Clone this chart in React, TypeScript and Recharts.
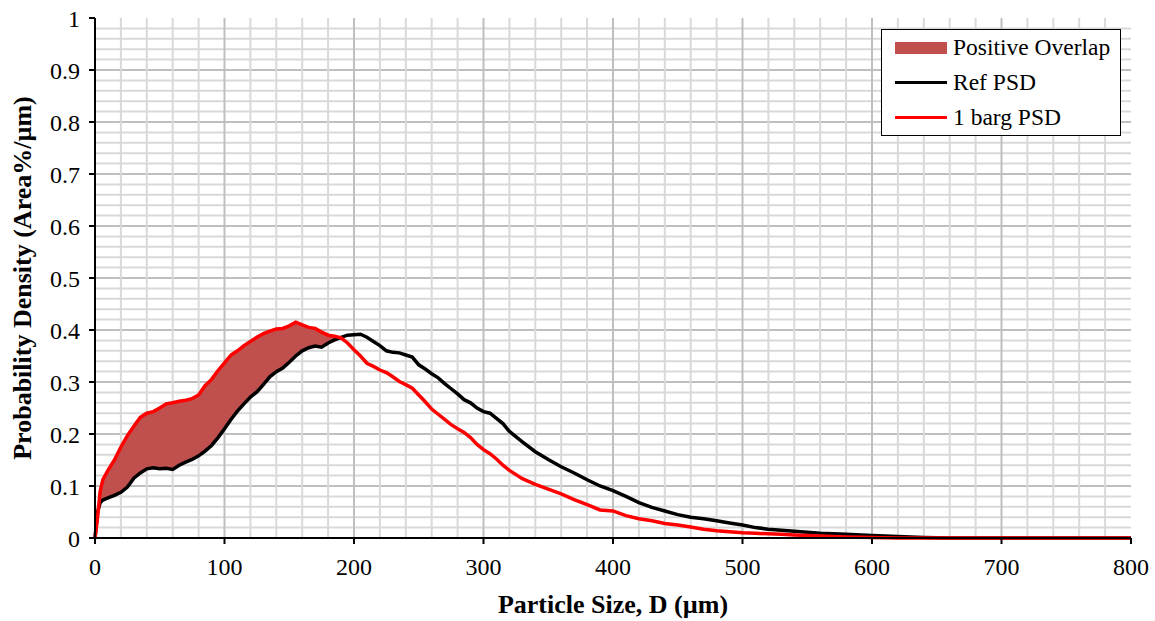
import { ComposedChart, Line, Area, XAxis, YAxis, CartesianGrid } from 'recharts'

// particle size grid (µm) shared by both PSD curves
const sizes = [
  0, 2, 4, 6, 10, 15, 20, 25, 30, 35, 40, 45, 50, 55, 60, 65, 70, 75, 80, 85, 90, 95,
  100, 105, 110, 115, 120, 125, 130, 135, 140, 145, 150, 155, 160, 165, 170, 175, 180, 185, 190, 195,
  200, 205, 210, 215, 220, 225, 230, 235, 240, 245, 250, 255, 260, 265, 270, 275, 280, 285, 290, 295,
  300, 305, 310, 315, 320, 330, 340, 350, 360, 370, 380, 390, 400, 410, 420, 430, 440, 450, 460, 470,
  480, 490, 500, 510, 520, 530, 540, 550, 560, 580, 600, 620, 640, 660, 700, 750, 800,
]

const refPsd = [
  0, 0.05, 0.068, 0.073, 0.077, 0.082, 0.088, 0.098, 0.115, 0.125, 0.133, 0.135, 0.133, 0.134, 0.132, 0.14, 0.146, 0.151, 0.158, 0.167, 0.178, 0.193,
  0.21, 0.228, 0.244, 0.258, 0.271, 0.281, 0.295, 0.31, 0.32, 0.327, 0.338, 0.35, 0.36, 0.366, 0.369, 0.367, 0.375, 0.381, 0.386, 0.39,
  0.391, 0.392, 0.386, 0.378, 0.37, 0.36, 0.357, 0.356, 0.352, 0.348, 0.333, 0.325, 0.316, 0.308, 0.297, 0.287, 0.277, 0.266, 0.26, 0.25,
  0.243, 0.24, 0.23, 0.22, 0.205, 0.185, 0.166, 0.151, 0.137, 0.125, 0.112, 0.1, 0.091, 0.08, 0.068, 0.059, 0.052, 0.045, 0.04, 0.037,
  0.033, 0.029, 0.025, 0.02, 0.017, 0.015, 0.013, 0.011, 0.009, 0.007, 0.005, 0.003, 0.001, 0, 0, 0, 0,
]

const bargPsd = [
  0, 0.04, 0.09, 0.112, 0.13, 0.15, 0.175, 0.197, 0.215, 0.232, 0.24, 0.243, 0.25, 0.258, 0.26, 0.263, 0.265, 0.268, 0.275, 0.293, 0.305, 0.322,
  0.337, 0.352, 0.36, 0.37, 0.378, 0.386, 0.393, 0.398, 0.402, 0.403, 0.408, 0.415, 0.41, 0.405, 0.403, 0.396, 0.39, 0.388, 0.385, 0.375,
  0.362, 0.35, 0.336, 0.33, 0.323, 0.318, 0.31, 0.301, 0.295, 0.288, 0.275, 0.262, 0.248, 0.238, 0.228, 0.218, 0.21, 0.203, 0.193, 0.18,
  0.17, 0.162, 0.152, 0.14, 0.13, 0.114, 0.103, 0.094, 0.085, 0.074, 0.064, 0.054, 0.052, 0.043, 0.037, 0.033, 0.028, 0.025, 0.021, 0.017,
  0.014, 0.012, 0.01, 0.009, 0.008, 0.007, 0.006, 0.005, 0.004, 0.002, 0.001, 0, 0, 0, 0, 0, 0,
]

const xTicks = [0, 100, 200, 300, 400, 500, 600, 700, 800]
const yTicks = [0, 0.1, 0.2, 0.3, 0.4, 0.5, 0.6, 0.7, 0.8, 0.9, 1]

// gridlines: every 20 µm and every 0.02, darker on the labelled ticks
const xGrid = Array.from({ length: 39 }, (_, i) => (i + 1) * 20)
const yGrid = Array.from({ length: 49 }, (_, i) => +((i + 1) * 0.02).toFixed(2))
const xMajor = (v: number) => v % 100 === 0
const yMajor = (v: number) => Math.round(v * 100) % 10 === 0

const data = sizes.map((d, i) => ({
  d,
  ref: refPsd[i],
  barg: bargPsd[i],
  overlap: d <= 200 ? [refPsd[i], Math.max(refPsd[i], bargPsd[i])] : null,
}))

const FONT = '"Liberation Serif", "Times New Roman", serif'

function gridLine(values: number[], isMajor: (v: number) => boolean) {
  return (props: any) => {
    const major = isMajor(values[props.index])
    return (
      <line
        key={`g-${props.x1}-${props.y1}-${props.index}`}
        x1={props.x1}
        y1={props.y1}
        x2={props.x2}
        y2={props.y2}
        stroke={major ? '#bfbfbf' : '#d9d9d9'}
        strokeWidth={2}
      />
    )
  }
}

function LegendBox() {
  const row = { display: 'flex', alignItems: 'center', height: 35 }
  const label = { fontFamily: FONT, fontSize: 23.5, color: '#000', marginLeft: 6, whiteSpace: 'nowrap' as const }
  return (
    <div
      style={{
        position: 'absolute',
        left: 881,
        top: 29,
        border: '1.5px solid #000',
        background: '#fff',
        width: 240,
        padding: '0 0 0 13px',
        boxSizing: 'border-box',
      }}
    >
      <div style={row}>
        <span style={{ display: 'inline-block', width: 52, height: 12, background: '#c0504d' }} />
        <span style={label}>Positive Overlap</span>
      </div>
      <div style={row}>
        <span style={{ display: 'inline-block', width: 52, height: 3.5, background: '#000' }} />
        <span style={label}>Ref PSD</span>
      </div>
      <div style={row}>
        <span style={{ display: 'inline-block', width: 52, height: 3.5, background: '#ff0000' }} />
        <span style={label}>1 barg PSD</span>
      </div>
    </div>
  )
}

export default function App() {
  return (
    <div style={{ position: 'absolute', left: 0, top: 0, width: 1155, height: 621, background: '#fff' }}>
      <ComposedChart width={1155} height={621} data={data} margin={{ top: 18, right: 24, bottom: 8, left: 15 }}>
        <CartesianGrid
          verticalValues={xGrid}
          horizontalValues={yGrid}
          vertical={gridLine(xGrid, xMajor)}
          horizontal={gridLine(yGrid, yMajor)}
        />
        <XAxis
          dataKey="d"
          type="number"
          domain={[0, 800]}
          ticks={xTicks}
          interval={0}
          height={75}
          tickSize={6}
          tickMargin={14}
          axisLine={{ stroke: '#000', strokeWidth: 2 }}
          tickLine={{ stroke: '#000', strokeWidth: 2 }}
          tick={{ fontFamily: FONT, fontSize: 24, fill: '#000' }}
          label={{ value: 'Particle Size, D (µm)', position: 'insideBottom', offset: 0, style: { fontFamily: FONT, fontSize: 26, fontWeight: 'bold', fill: '#000' } }}
        />
        <XAxis xAxisId="top" orientation="top" type="number" domain={[0, 800]} tick={false} tickLine={false} height={0} axisLine={{ stroke: '#000', strokeWidth: 2 }} />
        <YAxis
          type="number"
          domain={[0, 1]}
          ticks={yTicks}
          interval={0}
          width={80}
          tickSize={6}
          tickMargin={9}
          axisLine={{ stroke: '#000', strokeWidth: 2 }}
          tickLine={{ stroke: '#000', strokeWidth: 2 }}
          tick={{ fontFamily: FONT, fontSize: 24, fill: '#000' }}
          label={{ value: 'Probability Density (Area%/µm)', angle: -90, position: 'insideLeft', offset: 7, style: { textAnchor: 'middle', fontFamily: FONT, fontSize: 26, fontWeight: 'bold', fill: '#000' } }}
        />
        <YAxis yAxisId="right" orientation="right" type="number" domain={[0, 1]} tick={false} tickLine={false} width={0} axisLine={{ stroke: '#000', strokeWidth: 2 }} />
        <Area dataKey="overlap" type="linear" stroke="none" fill="#c0504d" fillOpacity={1} isAnimationActive={false} connectNulls={false} />
        <Line dataKey="ref" type="linear" stroke="#000" strokeWidth={3.5} dot={false} isAnimationActive={false} />
        <Line dataKey="barg" type="linear" stroke="#ff0000" strokeWidth={3.5} dot={false} isAnimationActive={false} />
      </ComposedChart>
      <LegendBox />
    </div>
  )
}
